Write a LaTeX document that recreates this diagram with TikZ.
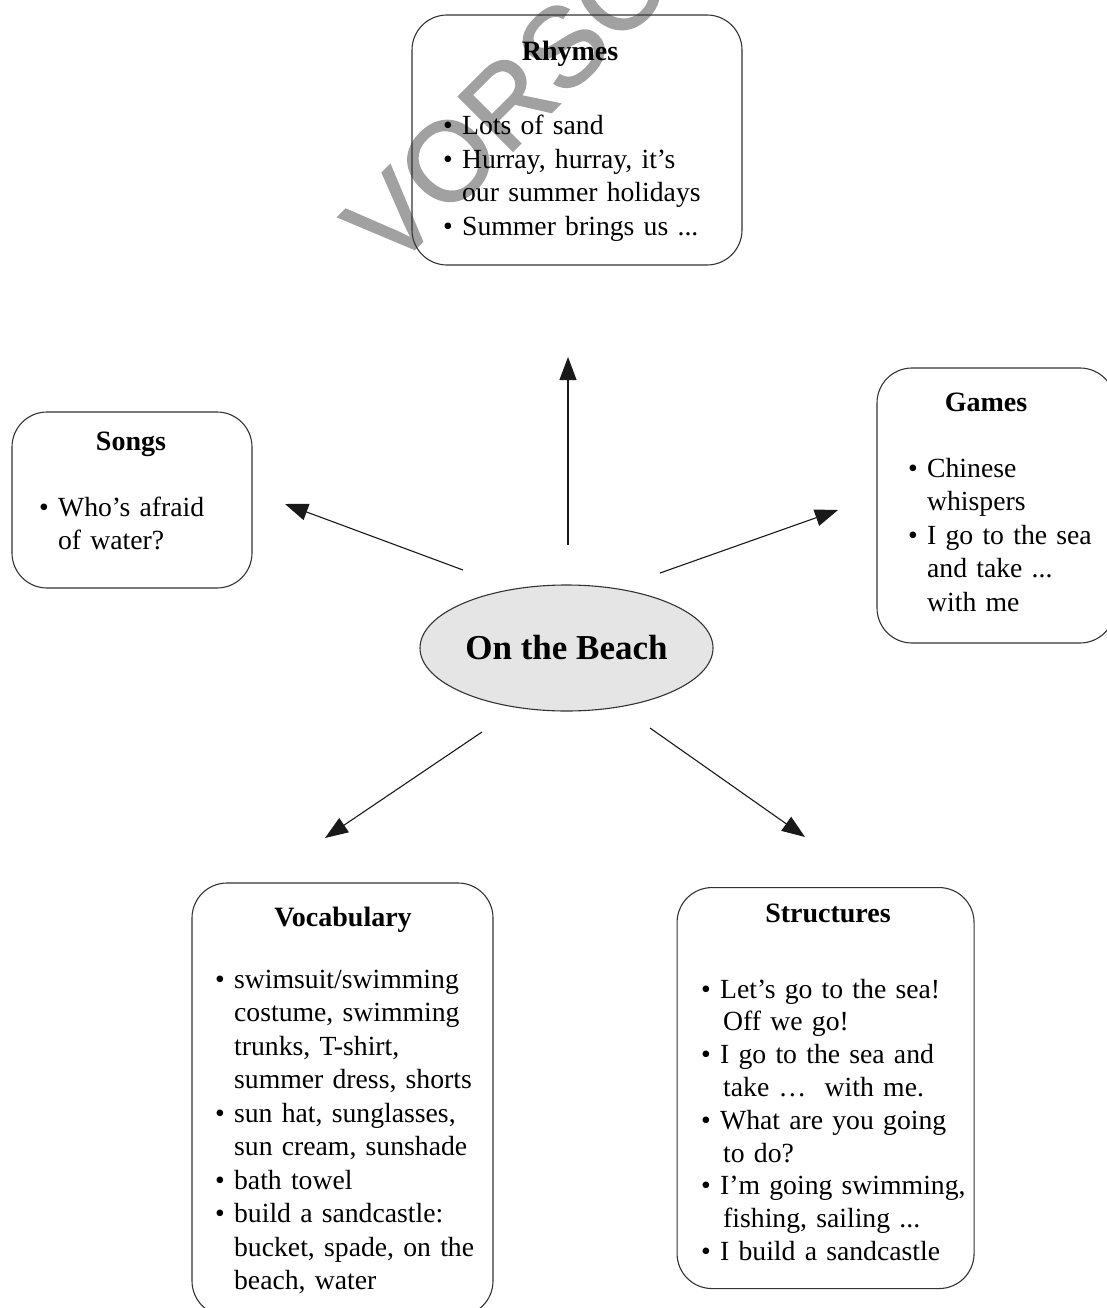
\documentclass[tikz,border=0pt]{standalone}
\usepackage{fontspec}
\setmainfont{Liberation Serif}
\newfontfamily\wmfont[FakeBold=1.5]{Liberation Sans}
\usetikzlibrary{arrows.meta,shapes.geometric}
\newcommand{\bl}{\textbullet\ }
\newcommand{\ind}{\phantom{\textbullet\ }}
\begin{document}
\begin{tikzpicture}[x=1pt,y=-1pt,
  box/.style={draw=black!80,line width=1.1pt,rounded corners=35pt,inner sep=0pt},
  body/.style={anchor=base west,align=left,inner sep=0pt,text width=330pt,
    font=\fontsize{27.7}{33.5}\selectfont},
  title/.style={anchor=base,inner sep=0pt,font=\fontsize{28}{33.5}\selectfont\bfseries},
  arr/.style={line width=1.1pt,draw=black!90,-{Triangle[length=23pt,width=17pt]}}]
\useasboundingbox (0,0) rectangle (1107,1308);
\clip (0,0) rectangle (1107,1308);

% watermark
\node[rotate=45,anchor=base west,inner sep=0pt,text=black!37,
  font=\wmfont\fontsize{112}{112}\selectfont] (wm) at (392,272) {VORSCHAU};

% boxes
\node[box,minimum width=330pt,minimum height=250pt] (rhymesbox) at (577,140) {};
\node[box,minimum width=240pt,minimum height=176pt] (songsbox) at (132,500) {};
\node[box,minimum width=238pt,minimum height=275pt] (gamesbox) at (996,505.5) {};
\node[box,minimum width=301pt,minimum height=433pt] (vocabbox) at (342.5,1099.5) {};
\node[box,minimum width=297pt,minimum height=401pt] (structbox) at (676.5,887) [anchor=north west] {};

% centre
\node[ellipse,draw=black!80,line width=1.1pt,fill=black!10,inner sep=0pt,
  minimum width=293pt,minimum height=126pt,
  font=\fontsize{35}{40}\selectfont\bfseries] (centre) at (566.5,648) {On the Beach};

% titles
\node[title] (rhymest) at (570,61) {Rhymes};
\node[title] (songst) at (131,450) {Songs};
\node[title] (gamest) at (986,411) {Games};
\node[title] (vocabt) at (343,926) {Vocabulary};
\node[title] (structt) at (828,922) {Structures};

% bodies
\node[body] (rhymesb) at (443,135) {\bl Lots of sand\\
\bl Hurray, hurray, it’s\\
\ind our summer holidays\\
\bl Summer brings us ...};

\node[body] (songsb) at (39,516) {\bl Who’s afraid\\
\ind of water?};

\node[body] (gamesb) at (908,477) {\bl Chinese\\
\ind whispers\\
\bl I go to the sea\\
\ind and take ...\\
\ind with me};

\node[body] (vocabb) at (215,988) {\bl swimsuit/swimming\\
\ind costume, swimming\\
\ind trunks, T-shirt,\\
\ind summer dress, shorts\\
\bl sun hat, sunglasses,\\
\ind sun cream, sunshade\\
\bl bath towel\\
\bl build a sandcastle:\\
\ind bucket, spade, on the\\
\ind beach, water};

\node[body,font=\fontsize{27.7}{32.8}\selectfont] (structb) at (701,998) {\bl Let’s go to the sea!\\
\hspace*{22pt}Off we go!\\
\bl I go to the sea and\\
\hspace*{22pt}take …\ \ with me.\\
\bl What are you going\\
\hspace*{22pt}to do?\\
\bl I’m going swimming,\\
\hspace*{22pt}fishing, sailing ...\\
\bl I build a sandcastle};

% arrows
\coordinate (uS) at (568,545);   \coordinate (uE) at (568,357);
\coordinate (sS) at (463,570);   \coordinate (sE) at (285,504);
\coordinate (gS) at (660,573);   \coordinate (gE) at (838,510);
\coordinate (vS) at (482,732);   \coordinate (vE) at (325,838);
\coordinate (tS) at (650,728);   \coordinate (tE) at (805,837);
\draw[arr] (uS) -- (uE);
\draw[arr] (sS) -- (sE);
\draw[arr] (gS) -- (gE);
\draw[arr] (vS) -- (vE);
\draw[arr] (tS) -- (tE);
\end{tikzpicture}
\end{document}
